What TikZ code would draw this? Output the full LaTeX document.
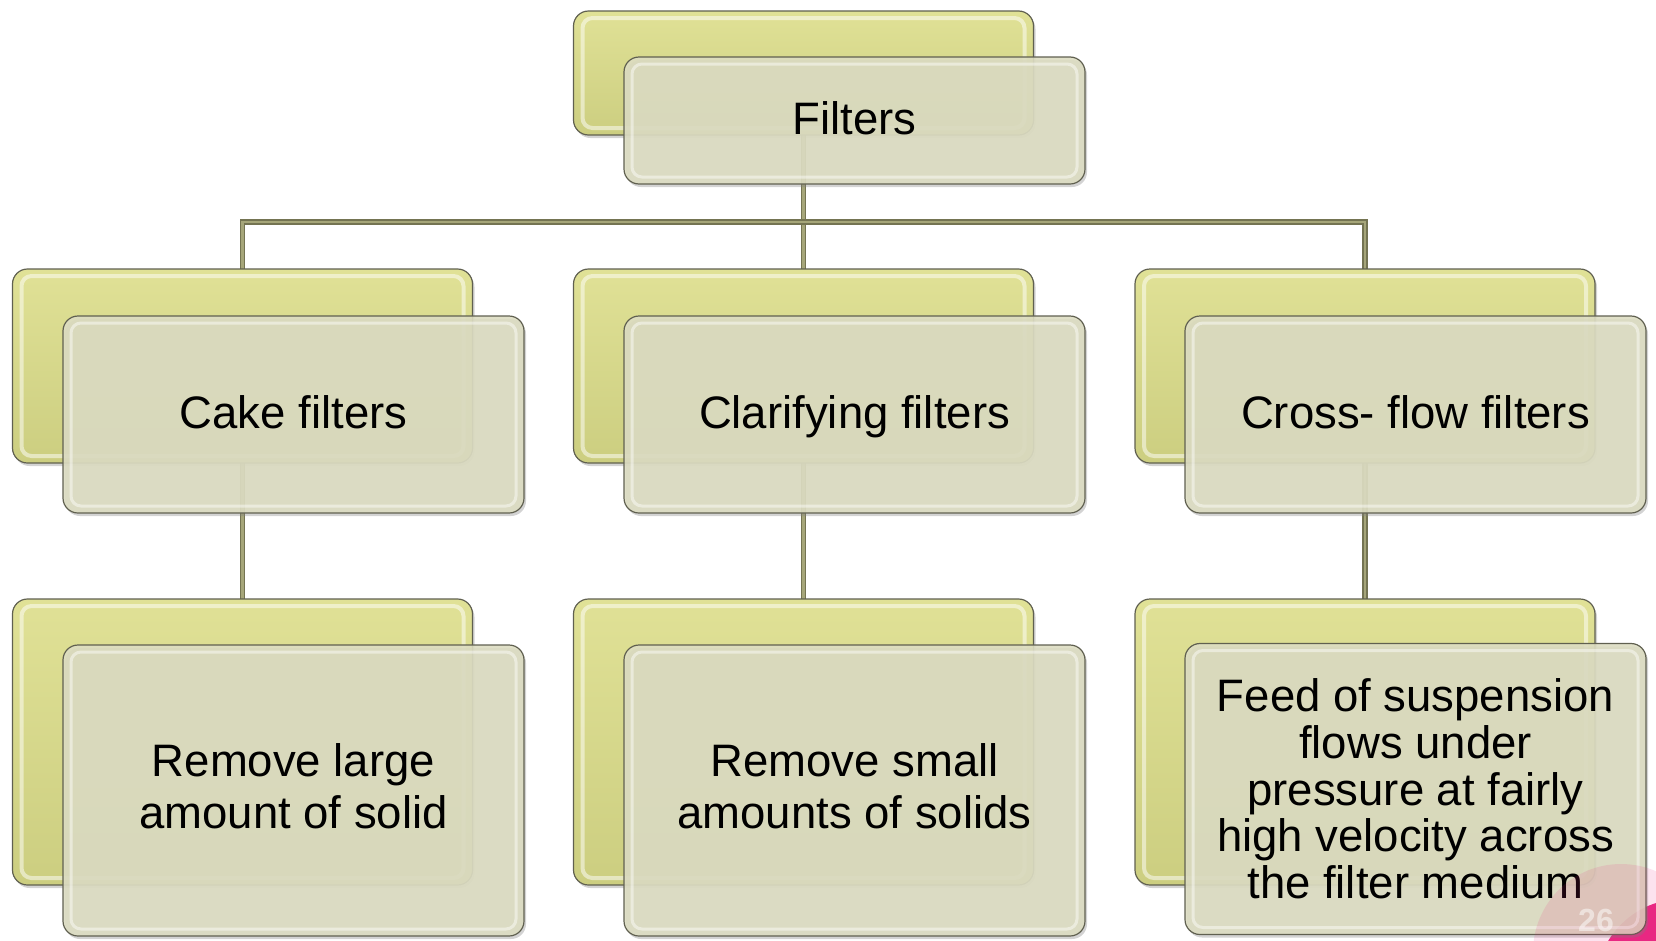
\documentclass[tikz,border=0pt]{standalone}
\usepackage{fontspec}
\setmainfont{Liberation Sans}
\usetikzlibrary{shadows}
\definecolor{backtop}{RGB}{224,225,150}
\definecolor{backbot}{RGB}{204,206,128}
\definecolor{frontfill}{RGB}{221,221,194}
\definecolor{edgec}{RGB}{96,96,80}
\definecolor{linec}{RGB}{116,116,82}
\definecolor{linein}{RGB}{166,166,122}
\definecolor{slidepink}{RGB}{232,40,130}
\tikzset{
  backbox/.style={draw=edgec, line width=1.2pt, rounded corners=15pt,
    top color=backtop, bottom color=backbot, minimum width=460pt, inner sep=0pt,
    drop shadow={opacity=0.35, shadow xshift=2pt, shadow yshift=-3pt},
    path picture={\draw[white, opacity=0.5, line width=4pt, rounded corners=10pt]
      ([shift={(9pt,-7pt)}]path picture bounding box.north west) rectangle
      ([shift={(-9pt,7pt)}]path picture bounding box.south east);}},
  frontbox/.style={draw=edgec, line width=1.2pt, rounded corners=15pt,
    fill=frontfill, fill opacity=0.9, text opacity=1, minimum width=461pt, inner sep=0pt,
    align=center, font=\fontsize{45.5}{52}\selectfont,
    drop shadow={opacity=0.35, shadow xshift=2pt, shadow yshift=-3pt},
    path picture={\draw[white, opacity=0.45, line width=3pt, rounded corners=10pt]
      ([shift={(8pt,-7pt)}]path picture bounding box.north west) rectangle
      ([shift={(-8pt,7pt)}]path picture bounding box.south east);}},
  oneline/.style={text height=33pt, text depth=6pt},
  twoline/.style={text depth=8pt},
  conn/.style={draw=linec, line width=1.5pt, double=linein, double distance=2.2pt}
}
\begin{document}
\begin{tikzpicture}[x=1pt,y=-1pt]
\useasboundingbox (0,0) rectangle (1656,940);
% slide number decoration (behind)
\fill[slidepink] (1682,985) circle (86pt);
% connectors
\coordinate (hub) at (803.5,222);
\coordinate (tbc) at (803.5,73);
\coordinate (c1c) at (242.5,366);
\coordinate (c2c) at (803.5,366);
\coordinate (c3c) at (1365,366);
\coordinate (l1c) at (242.5,742);
\coordinate (l2c) at (803.5,742);
\coordinate (l3c) at (1365,742);
\draw[conn] (tbc) -- (c2c);
\draw[conn] (c1c) |- (hub) -| (c3c);
\draw[conn] (c1c) -- (l1c);
\draw[conn] (c2c) -- (l2c);
\draw[conn] (c3c) -- (l3c);
% top
\node[backbox, minimum height=124pt] (tb) at (tbc) {};
\node[frontbox, oneline, minimum height=127pt] (tf) at (854.5,120.5) {Filters};
% level 2
\node[backbox, minimum height=194pt] (cb1) at (c1c) {};
\node[frontbox, oneline, minimum height=197pt] (cf1) at (293.5,414.5) {Cake filters};
\node[backbox, minimum height=194pt] (cb2) at (c2c) {};
\node[frontbox, oneline, minimum height=197pt] (cf2) at (854.5,414.5) {Clarifying filters};
\node[backbox, minimum height=194pt] (cb3) at (c3c) {};
\node[frontbox, oneline, minimum height=197pt] (cf3) at (1415.5,414.5) {Cross- flow filters};
% level 3
\node[backbox, minimum height=286pt] (lb1) at (l1c) {};
\node[frontbox, twoline, minimum height=291pt] (lf1) at (293.5,790.5) {Remove large\\amount of solid};
\node[backbox, minimum height=286pt] (lb2) at (l2c) {};
\node[frontbox, twoline, minimum height=291pt] (lf2) at (854.5,790.5) {Remove small\\amounts of solids};
\node[backbox, minimum height=286pt] (lb3) at (l3c) {};
\node[frontbox, minimum height=291pt, font=\fontsize{45.5}{46.7}\selectfont] (lf3) at (1415.5,789)
  {Feed of suspension\\flows under\\pressure at fairly\\high velocity across\\the filter medium};
% slide number overlay
\fill[slidepink, opacity=0.13] (1621,952) circle (88pt);
\node[text=white, opacity=0.5, font=\bfseries\fontsize{32}{32}\selectfont] (num) at (1596,920) {26};
\end{tikzpicture}
\end{document}
